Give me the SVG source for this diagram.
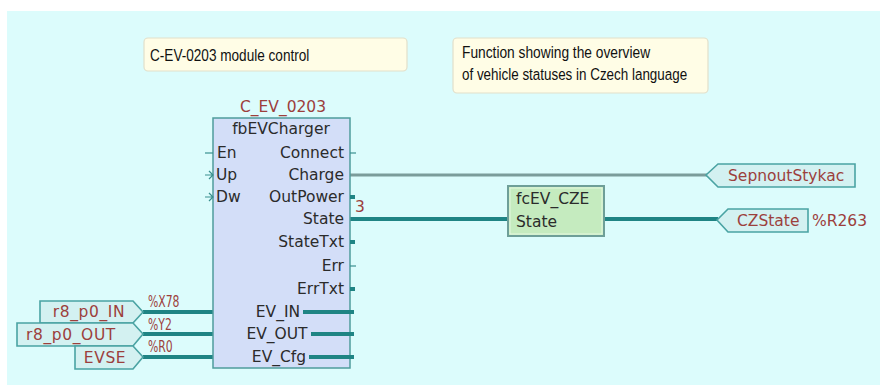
<svg xmlns="http://www.w3.org/2000/svg" width="880" height="385" viewBox="0 0 880 385">
  <style>
    .fbd { font-family: "DejaVu Sans", Verdana, sans-serif; font-size: 15.5px; fill: #2b2b2b; }
    .red { font-family: "DejaVu Sans", Verdana, sans-serif; font-size: 15.5px; fill: #9c3f3c; }
    .addr { font-family: "DejaVu Sans", Verdana, sans-serif; font-size: 15.5px; fill: #9c3f3c; }
    .note { font-family: "Liberation Sans", Arial, sans-serif; font-size: 17px; fill: #111; }
    .wire { stroke: #1f8484; stroke-width: 4; fill: none; }
    .wire-gray { stroke: #7b9c9a; stroke-width: 3; fill: none; }
    .stub { stroke: #3a8f8f; stroke-width: 1.2; fill: none; }
    .stub-bold { stroke: #1f8484; stroke-width: 4; fill: none; }
    .tag { fill: #d3f1f1; stroke: #4aa3a3; stroke-width: 1.6; }
    .comment { fill: #fffde6; stroke: #e2dfca; stroke-width: 1.2; }
  </style>

  <!-- sheet -->
  <rect x="0" y="0" width="880" height="385" fill="#ffffff"/>
  <rect x="7" y="11" width="873" height="374" fill="#dcfcfc"/>

  <!-- comments -->
  <g id="comment-module">
    <rect class="comment" x="144" y="38" width="263" height="33" rx="4"/>
    <text class="note" transform="translate(150 61) scale(0.8 1)">C-EV-0203 module control</text>
  </g>
  <g id="comment-function">
    <rect class="comment" x="453" y="38" width="255" height="55" rx="4"/>
    <text class="note" transform="translate(462 58) scale(0.81 1)">Function showing the overview</text>
    <text class="note" transform="translate(462 80) scale(0.79 1)">of vehicle statuses in Czech language</text>
  </g>

  <!-- connectors -->
  <g id="connectors">
    <line class="wire-gray" x1="350" y1="175" x2="707" y2="175"/>
    <line class="wire" x1="350" y1="219" x2="507" y2="219"/>
    <line class="wire" x1="604" y1="219" x2="718" y2="219"/>
    <line class="wire" x1="143" y1="312" x2="254" y2="312"/>
    <line class="wire" x1="143" y1="334" x2="247" y2="334"/>
    <line class="wire" x1="143" y1="357" x2="253" y2="357"/>
    <text class="addr" transform="translate(148 307) scale(0.7 1)">%X78</text>
    <text class="addr" transform="translate(148 330) scale(0.7 1)">%Y2</text>
    <text class="addr" transform="translate(148 352) scale(0.7 1)">%R0</text>
    <text class="red" x="355" y="212">3</text>
  </g>

  <!-- function block instance -->
  <g id="fbEVCharger">
    <text class="red" x="283" y="112" text-anchor="middle">C_EV_0203</text>
    <rect x="213" y="118" width="137" height="250" fill="#d3def8" stroke="#4f9c9c" stroke-width="1.5"/>
    <text class="fbd" x="281" y="134" text-anchor="middle">fbEVCharger</text>
    <!-- inputs -->
    <line class="stub" x1="205" y1="153" x2="213" y2="153"/>
    <text class="fbd" x="217" y="158">En</text>
    <path class="stub" d="M205 175 H213 M209 171 L213 175 L209 179"/>
    <text class="fbd" x="216" y="180">Up</text>
    <path class="stub" d="M205 197 H213 M209 193 L213 197 L209 201"/>
    <text class="fbd" x="216" y="202">Dw</text>
    <!-- outputs -->
    <text class="fbd" x="344" y="158" text-anchor="end">Connect</text>
    <line class="stub" x1="350" y1="153" x2="356" y2="153"/>
    <text class="fbd" x="344" y="180" text-anchor="end">Charge</text>
    <text class="fbd" x="344" y="202" text-anchor="end">OutPower</text>
    <line class="stub-bold" x1="350" y1="197" x2="355" y2="197"/>
    <text class="fbd" x="344" y="224" text-anchor="end">State</text>
    <text class="fbd" x="344" y="247" text-anchor="end">StateTxt</text>
    <line class="stub-bold" x1="350" y1="242" x2="355" y2="242"/>
    <text class="fbd" x="344" y="271" text-anchor="end">Err</text>
    <line class="stub" x1="350" y1="266" x2="356" y2="266"/>
    <text class="fbd" x="344" y="294" text-anchor="end">ErrTxt</text>
    <line class="stub-bold" x1="350" y1="289" x2="355" y2="289"/>
    <!-- in/out pins -->
    <text class="fbd" x="278" y="317" text-anchor="middle">EV_IN</text>
    <line class="stub-bold" x1="303" y1="312" x2="354" y2="312"/>
    <text class="fbd" x="277" y="339" text-anchor="middle">EV_OUT</text>
    <line class="stub-bold" x1="311" y1="334" x2="354" y2="334"/>
    <text class="fbd" x="279" y="362" text-anchor="middle">EV_Cfg</text>
    <line class="stub-bold" x1="309" y1="357" x2="354" y2="357"/>
  </g>

  <!-- function call -->
  <g id="fcEV_CZE">
    <rect x="508" y="186" width="96" height="50" fill="#c5ebbf" stroke="#6e9f98" stroke-width="2"/>
    <rect x="510" y="188" width="92" height="46" fill="none" stroke="#e4f7e0" stroke-width="1"/>
    <text class="fbd" x="516" y="204">fcEV_CZE</text>
    <text class="fbd" x="516" y="227">State</text>
  </g>

  <!-- output variables -->
  <g id="SepnoutStykac">
    <path class="tag" d="M706 175 L718 164 H855 V187 H718 Z"/>
    <text class="red" x="728" y="181">SepnoutStykac</text>
  </g>
  <g id="CZState">
    <path class="tag" d="M717 220 L728 209 H808 V232 H728 Z"/>
    <text class="red" x="737" y="226">CZState</text>
    <text class="red" x="812" y="226">%R263</text>
  </g>

  <!-- input variables -->
  <g id="r8_p0_IN">
    <path class="tag" d="M40 301 H133 L143 312 L133 323 H40 Z"/>
    <text class="red" x="89" y="317" text-anchor="middle" letter-spacing="0.6">r8_p0_IN</text>
  </g>
  <g id="r8_p0_OUT">
    <path class="tag" d="M17 323 H133 L143 334 L133 346 H17 Z"/>
    <text class="red" x="71" y="340" text-anchor="middle" letter-spacing="0.6">r8_p0_OUT</text>
  </g>
  <g id="EVSE">
    <path class="tag" d="M75 346 H133 L143 357 L133 369 H75 Z"/>
    <text class="red" x="105" y="363" text-anchor="middle" letter-spacing="0.6">EVSE</text>
  </g>
</svg>
